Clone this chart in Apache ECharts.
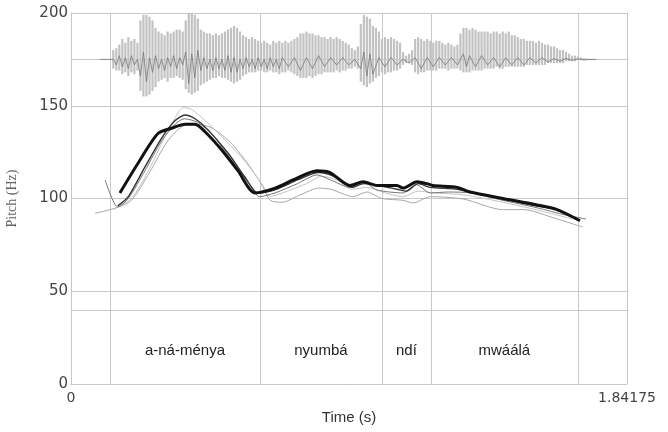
<!DOCTYPE html>
<html><head><meta charset="utf-8">
<script src="https://cdn.jsdelivr.net/npm/echarts@6/dist/echarts.min.js"></script>
<style>html,body{margin:0;padding:0;background:#fff}#c{width:668px;height:432px}</style>
</head><body><div id="c"></div>
<script>
// ---- data ----
const xMax = 1.84175;
const yTicks = [0, 50, 100, 150, 200];
const tierBounds = [0.129, 0.626, 1.030, 1.192, 1.679];
const tierLabels = ['a-ná-ménya', 'nyumbá', 'ndí', 'mwáálá'];
const tierLabelY = 18;
const hLines = [40, 175];

// waveform envelope (Hz-axis units, centred on 175)
const waveTime = [0.14,0.15,0.16,0.17,0.18,0.19,0.20,0.21,0.22,0.23,0.24,0.25,0.26,0.27,0.28,0.29,0.30,0.31,0.32,0.33,0.34,0.35,0.36,0.37,0.38,0.39,0.40,0.41,0.42,0.43,0.44,0.45,0.46,0.47,0.48,0.49,0.50,0.51,0.52,0.53,0.54,0.55,0.56,0.57,0.58,0.59,0.60,0.61,0.62,0.63,0.64,0.65,0.66,0.67,0.68,0.69,0.70,0.71,0.72,0.73,0.74,0.75,0.76,0.77,0.78,0.79,0.80,0.81,0.82,0.83,0.84,0.85,0.86,0.87,0.88,0.89,0.90,0.91,0.92,0.93,0.94,0.95,0.96,0.97,0.98,0.99,1.00,1.01,1.02,1.03,1.04,1.05,1.06,1.07,1.08,1.09,1.10,1.11,1.12,1.13,1.14,1.15,1.16,1.17,1.18,1.19,1.20,1.21,1.22,1.23,1.24,1.25,1.26,1.27,1.28,1.29,1.30,1.31,1.32,1.33,1.34,1.35,1.36,1.37,1.38,1.39,1.40,1.41,1.42,1.43,1.44,1.45,1.46,1.47,1.48,1.49,1.50,1.51,1.52,1.53,1.54,1.55,1.56,1.57,1.58,1.59,1.60,1.61,1.62,1.63,1.64,1.65,1.66,1.67,1.68,1.69,1.70,1.71,1.72];
const waveTop = [180,181,183,186,184,187,185,186,184,196,199,199,198,196,192,190,189,188,190,189,190,191,191,190,196,200,200,199,197,191,190,189,189,188,189,188,189,190,191,192,193,192,190,188,187,186,187,186,185,184,185,184,183,185,184,185,184,185,184,185,186,187,189,189,190,189,189,188,188,187,187,186,187,186,187,186,185,184,183,181,180,182,194,199,198,197,193,192,190,186,187,186,187,186,185,184,179,177,178,180,186,187,186,185,186,185,184,185,185,184,183,184,183,182,183,189,192,192,191,192,191,190,190,190,190,189,190,190,189,190,189,190,188,188,187,186,186,185,185,185,184,185,184,183,183,182,182,181,180,180,179,178,177,177,176.5,176,175.8,175.5,175.3];
const waveBottom = [170,169,169,167,168,166,168,167,169,158,155,155,156,158,160,163,164,165,163,165,165,166,165,164,159,157,156,157,158,161,162,163,164,165,165,166,165,165,164,163,162,163,164,166,167,168,168,168,169,169,168,168,169,168,168,167,168,168,169,168,167,166,165,165,165,166,165,166,167,167,168,168,168,168,169,168,169,169,170,170,171,170,163,161,160,162,163,165,166,168,167,168,168,169,169,170,172,173,173,172,168,167,168,168,169,169,169,169,170,170,170,169,170,170,170,169,168,168,168,169,169,169,169,170,170,170,170,171,170,170,171,171,171,171,171,171,171,172,172,172,172,172,172,172,173,173,173,173,173,173,174,174,174,174,174.5,174.5,174.5,174.7,174.8];
// darker centre trace of the waveform
const waveTrace = [[0.096,175],[0.13,175],[0.14,175],[0.15,172],[0.16,177],[0.17,171],[0.18,176],[0.19,170],[0.20,177],[0.21,172],[0.22,175],[0.23,166],[0.24,179],[0.25,163],[0.26,176],[0.27,168],[0.28,177],[0.29,170],[0.30,175],[0.31,169],[0.32,176],[0.33,171],[0.34,177],[0.35,170],[0.36,176],[0.37,172],[0.38,179],[0.39,162],[0.40,178],[0.41,165],[0.42,180],[0.43,169],[0.44,176],[0.45,170],[0.46,175],[0.47,169],[0.48,176],[0.49,170],[0.50,175],[0.51,169],[0.52,177],[0.53,168],[0.54,176],[0.55,168],[0.56,175],[0.57,170],[0.58,176],[0.59,171],[0.60,175],[0.61,170],[0.62,176],[0.63,171],[0.64,175],[0.65,170],[0.66,176],[0.67,171],[0.68,175],[0.69,170],[0.70,176],[0.72,171],[0.74,176],[0.76,169],[0.78,176],[0.80,170],[0.82,177],[0.84,171],[0.86,176],[0.88,172],[0.90,176],[0.92,172],[0.94,175],[0.96,170],[0.97,179],[0.98,166],[0.99,178],[1.00,167],[1.02,176],[1.04,171],[1.06,176],[1.08,172],[1.10,175],[1.12,173],[1.14,176],[1.16,170],[1.18,176],[1.20,171],[1.22,176],[1.24,172],[1.26,176],[1.28,172],[1.30,178],[1.31,171],[1.32,177],[1.34,171],[1.36,177],[1.38,172],[1.40,176],[1.42,171],[1.44,176],[1.46,172],[1.48,176],[1.50,172],[1.52,176],[1.54,173],[1.56,176],[1.58,173.5],[1.60,175.5],[1.62,174],[1.64,175.5],[1.66,174.5],[1.68,175.3],[1.70,174.7],[1.72,175],[1.74,175]];

// pitch contours [time s, Hz]
const pitchA = [[0.162,103],[0.222,119],[0.288,135],[0.335,138],[0.378,140],[0.411,140],[0.444,136],[0.500,126],[0.553,115],[0.609,103],[0.676,105.6],[0.735,110],[0.815,115],[0.858,114],[0.924,107],[0.967,109],[1.014,107],[1.080,107],[1.100,105.6],[1.146,109],[1.179,108],[1.199,107],[1.279,106],[1.322,103.5],[1.431,100],[1.544,96.5],[1.610,94],[1.686,88]];
const pitchB = [[0.155,96],[0.190,101],[0.245,117],[0.302,133],[0.345,142],[0.378,145],[0.411,143],[0.454,137],[0.520,124.5],[0.576,111.6],[0.619,103],[0.680,105],[0.750,110],[0.820,114],[0.870,112],[0.930,106],[0.970,108],[1.020,107],[1.080,105],[1.110,104],[1.150,108],[1.190,106],[1.280,105],[1.330,103],[1.430,100],[1.540,96],[1.600,94.5],[1.650,91]];
const pitchC = [[0.140,94],[0.200,100],[0.260,116],[0.310,133],[0.350,145],[0.371,149],[0.400,148],[0.467,138.5],[0.566,122],[0.632,108],[0.660,101],[0.700,103],[0.780,108],[0.830,112],[0.880,110],[0.930,105],[0.980,106],[1.040,103],[1.100,101],[1.150,104],[1.200,103],[1.300,102],[1.430,98],[1.540,94],[1.660,89]];
const pitchD = [[0.080,92],[0.150,95],[0.200,99],[0.260,114],[0.320,131],[0.370,139],[0.420,140],[0.467,138],[0.530,130],[0.580,120],[0.630,108],[0.660,99],[0.700,98],[0.760,102],[0.820,105.6],[0.860,105],[0.935,101],[0.980,103.5],[1.030,100],[1.100,99],[1.135,97.6],[1.170,100],[1.190,101],[1.300,99.7],[1.430,94],[1.500,94],[1.600,89.5],[1.695,84.6]];
const pitchE = [[0.113,110],[0.155,95.4],[0.190,100],[0.245,115],[0.300,131],[0.345,140],[0.375,143],[0.420,141],[0.470,134],[0.530,121],[0.590,108],[0.625,101],[0.676,103],[0.750,108],[0.815,112.7],[0.860,110],[0.924,106],[0.967,109],[1.014,104.6],[1.100,103],[1.143,107.5],[1.190,103],[1.250,103.5],[1.322,103],[1.431,99],[1.544,95],[1.640,91],[1.705,89]];

// ---- chart ----
const GRID = '#c8c8c8';
const chart = echarts.init(document.getElementById('c'), null, {renderer: 'canvas'});

const waveData = waveTime.map((t, i) => [t, waveTop[i], waveBottom[i]]);
const tierData = tierLabels.map((n, i) => [(tierBounds[i] + tierBounds[i + 1]) / 2, tierLabelY, n]);

function pitchSeries(name, data, color, width, z) {
  return {name, type: 'line', data, showSymbol: false, smooth: 0.25, z,
    lineStyle: {color, width}, silent: true, animation: false};
}

chart.setOption({
  animation: false,
  backgroundColor: '#fff',
  grid: {left: 71, right: 41, top: 13, bottom: 48, containLabel: false, outerBoundsMode: 'none'},
  xAxis: {
    type: 'value', min: 0, max: xMax,
    name: 'Time (s)', nameLocation: 'middle', nameGap: 22,
    nameTextStyle: {fontFamily: 'Liberation Sans', fontSize: 15, color: '#333'},
    axisLine: {show: true, lineStyle: {color: GRID}},
    axisTick: {show: false},
    splitLine: {show: false},
    axisLabel: {customValues: [0, xMax], formatter: v => v === 0 ? '0' : String(xMax),
      fontFamily: 'DejaVu Sans', fontSize: 14, color: '#444', margin: 7}
  },
  yAxis: {
    type: 'value', min: 0, max: 200, interval: 50,
    name: 'Pitch (Hz)', nameLocation: 'middle', nameGap: 52, nameRotate: 90,
    nameTextStyle: {fontFamily: 'Liberation Serif', fontSize: 14, color: '#666'},
    axisLine: {show: true, lineStyle: {color: GRID}},
    axisTick: {show: false},
    splitLine: {show: true, lineStyle: {color: GRID, width: 1}},
    axisLabel: {customValues: yTicks, fontFamily: 'DejaVu Sans', fontSize: 15, color: '#444', margin: 3}
  },
  series: [
    { // tier boundaries (vertical lines)
      type: 'custom', z: 1, silent: true,
      data: tierBounds.concat([xMax]).map(b => [b]),
      encode: {x: 0},
      renderItem: (p, api) => {
        const a = api.coord([api.value(0), 0]), b = api.coord([api.value(0), 200]);
        return {type: 'line', shape: {x1: Math.round(a[0]) + 0.5, y1: a[1], x2: Math.round(b[0]) + 0.5, y2: b[1]},
          style: {stroke: GRID, lineWidth: 1}};
      }
    },
    { // extra horizontal lines (tier top, waveform baseline)
      type: 'custom', z: 1, silent: true,
      data: hLines.map(h => [0, h]),
      encode: {x: 0, y: 1},
      renderItem: (p, api) => {
        const a = api.coord([0, api.value(1)]), b = api.coord([xMax, api.value(1)]);
        return {type: 'line', shape: {x1: a[0], y1: Math.round(a[1]) + 0.5, x2: b[0], y2: Math.round(b[1]) + 0.5},
          style: {stroke: GRID, lineWidth: 1}};
      }
    },
    { // waveform periods
      type: 'custom', z: 2, silent: true,
      data: waveData,
      encode: {x: 0, y: [1, 2]},
      renderItem: (p, api) => {
        const a = api.coord([api.value(0), api.value(1)]), b = api.coord([api.value(0), api.value(2)]);
        return {type: 'line', shape: {x1: a[0], y1: a[1], x2: b[0], y2: b[1]},
          style: {stroke: '#c2c2c2', lineWidth: 2.2}};
      }
    },
    {type: 'line', data: waveTrace, showSymbol: false, z: 3, silent: true,
      lineStyle: {color: '#777', width: 0.8}},
    { // tier labels
      type: 'custom', z: 4, silent: true,
      data: tierData,
      encode: {x: 0, y: 1},
      renderItem: (p, api) => {
        const c = api.coord([api.value(0), api.value(1)]);
        return {type: 'text', x: c[0], y: c[1],
          style: {text: tierLabels[p.dataIndex], textAlign: 'center', textVerticalAlign: 'middle',
            fill: '#222', font: '15px "Liberation Sans"'}};
      }
    },
    pitchSeries('D', pitchD, '#a8a8a8', 1, 5),
    pitchSeries('C', pitchC, '#c4c4c4', 1, 5),
    pitchSeries('E', pitchE, '#777', 1, 6),
    pitchSeries('B', pitchB, '#333', 1.4, 7),
    pitchSeries('A', pitchA, '#111', 3, 8)
  ]
});
</script></body></html>
